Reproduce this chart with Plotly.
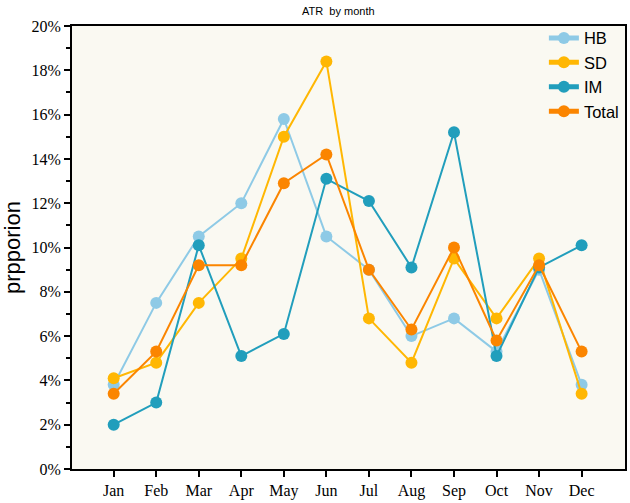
import plotly.graph_objects as go

months = ["Jan", "Feb", "Mar", "Apr", "May", "Jun", "Jul", "Aug", "Sep", "Oct", "Nov", "Dec"]
hb = [3.8, 7.5, 10.5, 12.0, 15.8, 10.5, 9.0, 6.0, 6.8, 5.3, 9.0, 3.8]
sd = [4.1, 4.8, 7.5, 9.5, 15.0, 18.4, 6.8, 4.8, 9.5, 6.8, 9.5, 3.4]
im = [2.0, 3.0, 10.1, 5.1, 6.1, 13.1, 12.1, 9.1, 15.2, 5.1, 9.1, 10.1]
total = [3.4, 5.3, 9.2, 9.2, 12.9, 14.2, 9.0, 6.3, 10.0, 5.8, 9.2, 5.3]

series = [
    ("HB", hb, "#8ECAE6"),
    ("SD", sd, "#FFB703"),
    ("IM", im, "#219EBC"),
    ("Total", total, "#FB8500"),
]

fig = go.Figure()
xs = list(range(len(months)))
for name, vals, col in series:
    fig.add_trace(go.Scatter(
        x=xs, y=vals, name=name, mode="lines+markers",
        line=dict(color=col, width=2),
        marker=dict(size=12, color=col, line=dict(width=0)),
    ))

fig.update_layout(
    width=630, height=503,
    margin=dict(l=72, r=3, t=26, b=31),
    paper_bgcolor="white",
    plot_bgcolor="#FAF9F2",
    title=dict(text="ATR  by month", x=0.537, xanchor="center", y=0.985, yanchor="top",
               font=dict(family="Liberation Sans, Arial", size=11, color="black")),
    showlegend=True,
    legend=dict(x=0.998, y=1.012, xanchor="right", yanchor="top",
                bgcolor="rgba(0,0,0,0)", borderwidth=0,
                font=dict(family="Liberation Sans, Arial", size=16.5, color="black"),
                itemsizing="constant", tracegroupgap=0),
)
fig.update_xaxes(
    range=[-0.98, 12.02], tickmode="array", tickvals=xs, ticktext=months,
    showgrid=False, zeroline=False,
    showline=True, linecolor="black", linewidth=2, mirror=True,
    ticks="outside", ticklen=6, tickwidth=1.5, tickcolor="black",
    tickfont=dict(family="Liberation Serif, Times New Roman", size=16, color="black"),
)
fig.update_yaxes(
    range=[0, 20], tickmode="array", tickvals=[0, 2, 4, 6, 8, 10, 12, 14, 16, 18, 20],
    ticktext=["0%", "2%", "4%", "6%", "8%", "10%", "12%", "14%", "16%", "18%", "20%"],
    showgrid=False, zeroline=False,
    showline=True, linecolor="black", linewidth=2, mirror=True,
    ticks="outside", ticklen=6, tickwidth=1.5, tickcolor="black",
    minor=dict(dtick=1, ticks="outside", ticklen=4, tickwidth=1.5, tickcolor="black"),
    tickfont=dict(family="Liberation Serif, Times New Roman", size=16, color="black"),
    title=dict(text="prpporion", font=dict(family="Liberation Sans, Arial", size=22, color="black"),
               standoff=6),
)
fig.write_html("out.html")
